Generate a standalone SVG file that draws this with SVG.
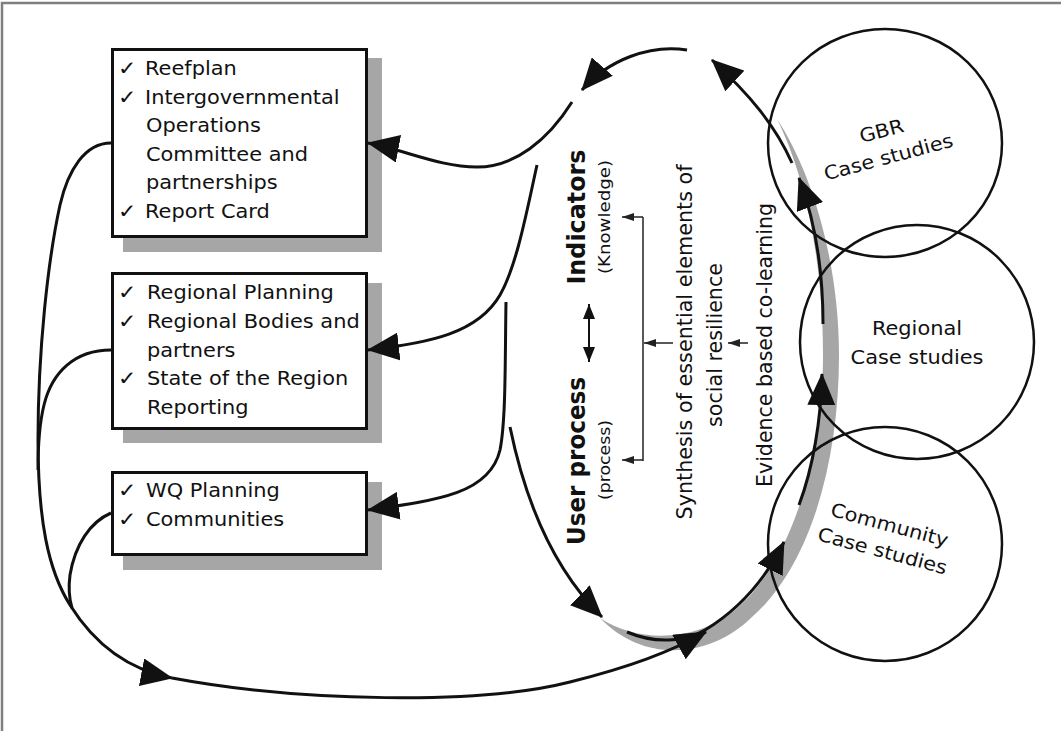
<svg xmlns="http://www.w3.org/2000/svg" width="1061" height="731" viewBox="0 0 1061 731">
<style>
.bx{fill:#fff;stroke:#111;stroke-width:3}
.sh{fill:#a6a6a6}
.t{font-family:"DejaVu Sans","Verdana",sans-serif;font-size:19px;fill:#111}
.ck{font-family:"DejaVu Sans","Verdana",sans-serif;font-size:20px;fill:#111}
.vb{font-family:"DejaVu Sans","Verdana",sans-serif;font-size:25px;font-weight:bold;fill:#111}
.vl{font-family:"DejaVu Sans","Verdana",sans-serif;font-size:16px;fill:#111}
.vn{font-family:"DejaVu Sans","Verdana",sans-serif;font-size:22px;fill:#111}
.ln{fill:none;stroke:#111;stroke-width:3}
.th{fill:none;stroke:#222;stroke-width:1.5}
.cir{fill:none;stroke:#111;stroke-width:2.5}
</style>
<defs>
<marker id="ah" viewBox="0 0 32 28" refX="31" refY="14" markerWidth="32" markerHeight="28" markerUnits="userSpaceOnUse" orient="auto"><path d="M0,0 L32,14 L0,28 z" fill="#111"/></marker>
<marker id="sm" viewBox="0 0 12 8" refX="12" refY="4" markerWidth="12" markerHeight="8" markerUnits="userSpaceOnUse" orient="auto"><path d="M0,0 L12,4 L0,8 z" fill="#222"/></marker>
<marker id="dm" viewBox="0 0 15 12" refX="15" refY="6" markerWidth="15" markerHeight="12" markerUnits="userSpaceOnUse" orient="auto-start-reverse"><path d="M0,0 L15,6 L0,12 z" fill="#111"/></marker>
</defs>
<rect width="1061" height="731" fill="#fff"/>
<path d="M2,731 V3 H1061" fill="none" stroke="#7f7f7f" stroke-width="2.5"/>

<g id="box-gbr">
<rect class="sh" x="123" y="58" width="259" height="194"/>
<rect class="bx" x="112.5" y="49.5" width="254" height="187"/>
<text class="ck" transform="matrix(1.1 0 0 1 118 75)">✓</text>
<text class="t" transform="matrix(1.1 0 0 1 145 75)">Reefplan</text>
<text class="ck" transform="matrix(1.1 0 0 1 118 103.6)">✓</text>
<text class="t" transform="matrix(1.1 0 0 1 145 103.6)">Intergovernmental</text>
<text class="t" transform="matrix(1.1 0 0 1 146 132.2)">Operations</text>
<text class="t" transform="matrix(1.1 0 0 1 146 160.8)">Committee and</text>
<text class="t" transform="matrix(1.1 0 0 1 146 189.4)">partnerships</text>
<text class="ck" transform="matrix(1.1 0 0 1 118 218)">✓</text>
<text class="t" transform="matrix(1.1 0 0 1 145 218)">Report Card</text>
</g>

<g id="box-regional">
<rect class="sh" x="123" y="283" width="259" height="160"/>
<rect class="bx" x="112.5" y="273.5" width="254" height="155"/>
<text class="ck" transform="matrix(1.1 0 0 1 118 299)">✓</text>
<text class="t" transform="matrix(1.1 0 0 1 147 299)">Regional Planning</text>
<text class="ck" transform="matrix(1.1 0 0 1 118 328)">✓</text>
<text class="t" transform="matrix(1.1 0 0 1 147 328)">Regional Bodies and</text>
<text class="t" transform="matrix(1.1 0 0 1 147 357)">partners</text>
<text class="ck" transform="matrix(1.1 0 0 1 118 385)">✓</text>
<text class="t" transform="matrix(1.1 0 0 1 147 385)">State of the Region</text>
<text class="t" transform="matrix(1.1 0 0 1 147 414)">Reporting</text>
</g>

<g id="box-community">
<rect class="sh" x="123" y="482" width="259" height="88"/>
<rect class="bx" x="112.5" y="472.5" width="254" height="82"/>
<text class="ck" transform="matrix(1.1 0 0 1 118 497)">✓</text>
<text class="t" transform="matrix(1.1 0 0 1 146 497)">WQ Planning</text>
<text class="ck" transform="matrix(1.1 0 0 1 118 526)">✓</text>
<text class="t" transform="matrix(1.1 0 0 1 146 526)">Communities</text>
</g>

<g id="shadow-band">
<path class="sh" d="M600,618 C640,645 700,640 735,610 C790,565 823,460 823,355 C823,260 805,175 777,119 C812,172 839,262 839,355 C839,465 809,567 752,617 C712,657 645,665 600,618 Z"/>
</g>

<g id="case-gbr">
<ellipse class="cir" cx="885" cy="143" rx="117" ry="114"/>
<g transform="translate(885,144) rotate(-15)">
<text class="t" text-anchor="middle" transform="matrix(1.1 0 0 1 0 -7)">GBR</text>
<text class="t" text-anchor="middle" transform="matrix(1.1 0 0 1 0 20)">Case studies</text>
</g>
</g>
<g id="case-regional">
<circle class="cir" cx="917" cy="342" r="117"/>
<text class="t" text-anchor="middle" transform="matrix(1.1 0 0 1 917 335)">Regional</text>
<text class="t" text-anchor="middle" transform="matrix(1.1 0 0 1 917 364)">Case studies</text>
</g>
<g id="case-community">
<circle class="cir" cx="885" cy="544" r="117"/>
<g transform="translate(886,538) rotate(15)">
<text class="t" text-anchor="middle" transform="matrix(1.1 0 0 1 0 -7)">Community</text>
<text class="t" text-anchor="middle" transform="matrix(1.1 0 0 1 0 20)">Case studies</text>
</g>
</g>

<g id="center-labels">
<text class="vb" text-anchor="middle" textLength="135" lengthAdjust="spacingAndGlyphs" transform="translate(585,217) rotate(-90)">Indicators</text>
<text class="vl" text-anchor="middle" textLength="114" lengthAdjust="spacingAndGlyphs" transform="translate(610,217) rotate(-90)">(Knowledge)</text>
<text class="vb" text-anchor="middle" textLength="168" lengthAdjust="spacingAndGlyphs" transform="translate(585,461) rotate(-90)">User process</text>
<text class="vl" text-anchor="middle" textLength="80" lengthAdjust="spacingAndGlyphs" transform="translate(610,460) rotate(-90)">(process)</text>
<text class="vn" text-anchor="middle" textLength="355" lengthAdjust="spacingAndGlyphs" transform="translate(692,342) rotate(-90)">Synthesis of essential elements of</text>
<text class="vn" text-anchor="middle" textLength="164" lengthAdjust="spacingAndGlyphs" transform="translate(722,345) rotate(-90)">social resilience</text>
<text class="vn" text-anchor="middle" textLength="284" lengthAdjust="spacingAndGlyphs" transform="translate(772,345) rotate(-90)">Evidence based co-learning</text>
</g>

<g id="connectors">
<path class="ln" d="M111,143 C85,143 68,170 60,205 C48,260 38,350 38,440 C38,520 48,570 70,605 C95,645 130,670 172,678" marker-end="url(#ah)"/>
<path class="ln" d="M111,350 C75,350 52,372 44,405 C39,425 38,445 38,470"/>
<path class="ln" d="M111,513 C90,522 75,545 70,575 C68,590 69,598 72,608"/>
<path class="ln" d="M172,678 C300,702 480,705 570,682 C630,667 670,652 706,632" marker-end="url(#ah)"/>
<path class="ln" d="M572,102 C548,140 515,167 477,167 C440,167 405,150 368,143" marker-end="url(#ah)"/>
<path class="ln" d="M537,165 C527,210 517,265 500,295 C478,333 430,343 368,350" marker-end="url(#ah)"/>
<path class="ln" d="M506,302 C505,360 506,420 500,450 C490,493 440,500 368,510" marker-end="url(#ah)"/>
<path class="ln" d="M510,427 C525,500 552,568 602,617" marker-end="url(#ah)"/>
<path class="ln" d="M687,50 C650,44 608,60 582,90" marker-end="url(#ah)"/>
<path class="ln" d="M792,163 C775,125 750,95 712,60" marker-end="url(#ah)"/>
<path class="ln" d="M823,324 C823,262 813,215 799,178" marker-end="url(#ah)"/>
<path class="ln" d="M799,505 C813,468 821,420 822,374" marker-end="url(#ah)"/>
<path class="ln" d="M627,632 C655,644 685,642 705,630 C738,610 765,580 784,542" marker-end="url(#ah)"/>
<path fill="none" stroke="#111" stroke-width="2" d="M589,304 V362" marker-start="url(#dm)" marker-end="url(#dm)"/>
<path class="th" d="M643,217 V461"/>
<path class="th" d="M643,217 H622" marker-end="url(#sm)"/>
<path class="th" d="M643,460 H622" marker-end="url(#sm)"/>
<path class="th" d="M673,343 H644" marker-end="url(#sm)"/>
<path class="th" d="M748,343 H728" marker-end="url(#sm)"/>
</g>
</svg>
